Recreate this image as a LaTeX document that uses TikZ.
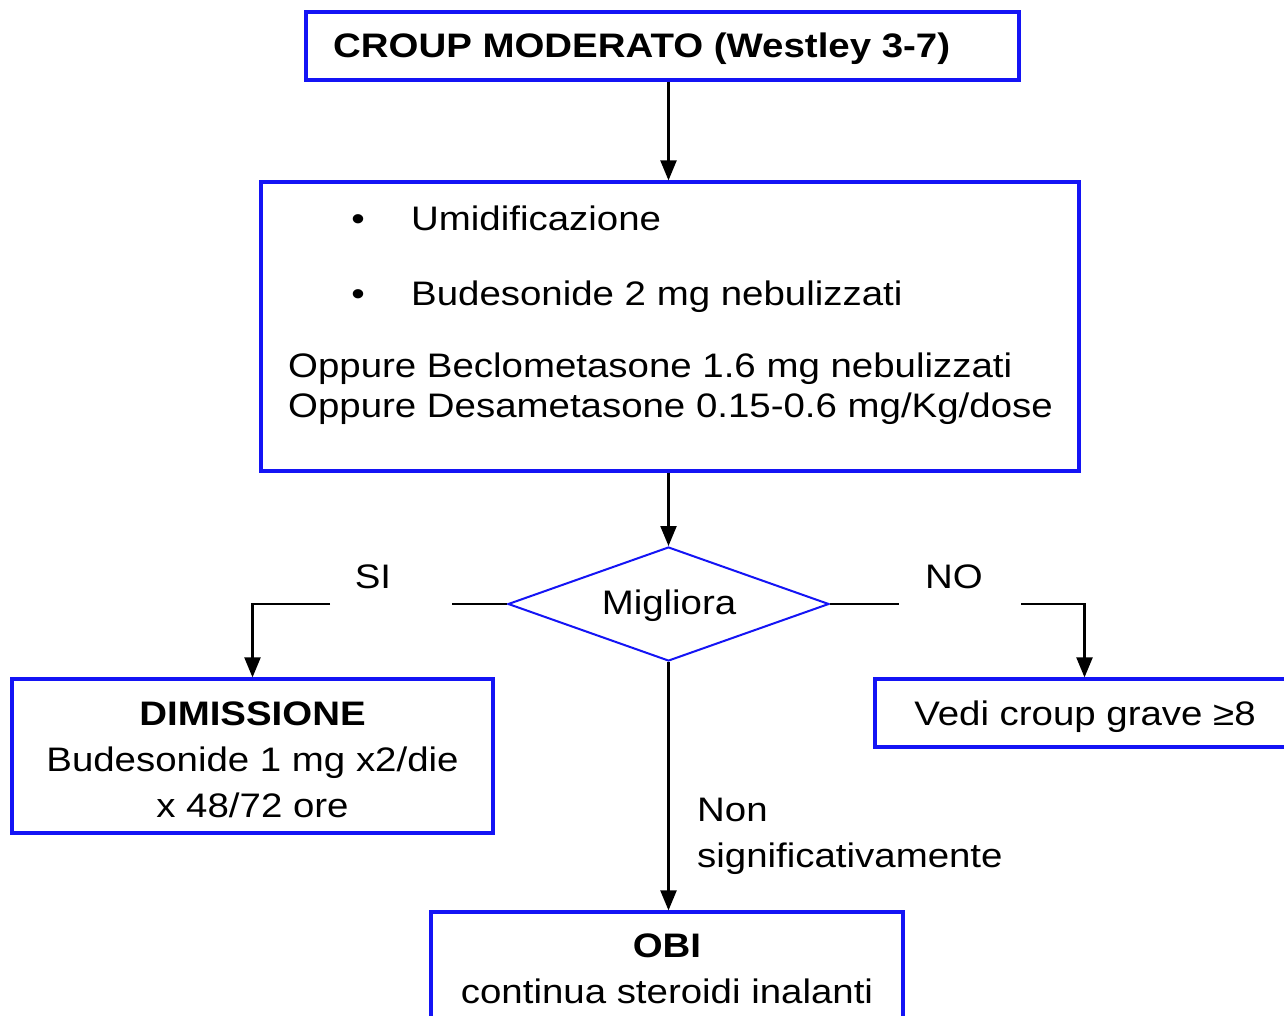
\documentclass[tikz,border=0pt]{standalone}
\usepackage{fontspec}
\setmainfont{Liberation Sans}[FakeStretch=1.13]
\usetikzlibrary{arrows.meta,shapes.geometric}
\definecolor{bbl}{RGB}{20,20,245}
\tikzset{
  boxframe/.style={draw=bbl, line width=3.2pt, rectangle, inner sep=0pt},
  diaframe/.style={draw=bbl, line width=2pt, diamond, inner sep=0pt},
  txt/.style={inner sep=0pt, font=\fontsize{34}{40}\selectfont},
  conn/.style={draw=black, line width=2.2pt},
  arr/.style={conn, -{Triangle[width=16pt,length=20pt]}},
}
\begin{document}
\begin{tikzpicture}[x=1pt,y=-1pt]
\useasboundingbox[fill=white] (0,0) rectangle (1284,1016);
% boxes
\node[boxframe, minimum width=713pt, minimum height=68pt] (top) at (662.5,46) {};
\node[boxframe, minimum width=818pt, minimum height=289pt] (mid) at (670,326.5) {};
\node[diaframe, minimum width=321pt, minimum height=114pt] (dia) at (668.5,604) {};
\node[boxframe, minimum width=481pt, minimum height=154pt] (dim) at (252.5,756) {};
\node[boxframe, minimum width=419pt, minimum height=68pt] (vedi) at (1084.5,713) {};
\node[boxframe, minimum width=472pt, minimum height=140pt] (obi) at (667,982) {};
% texts
\node[txt, anchor=base west] (t1) at (333,58) {\bfseries CROUP MODERATO (Westley 3-7)};
\node[txt, anchor=base] (b1) at (358,231) {•};
\node[txt, anchor=base west] (m1) at (411,231) {Umidificazione};
\node[txt, anchor=base] (b2) at (358,305) {•};
\node[txt, anchor=base west] (m2) at (411,305) {Budesonide 2 mg nebulizzati};
\node[txt, anchor=base west] (m3) at (288,377) {Oppure Beclometasone 1.6 mg nebulizzati};
\node[txt, anchor=base west] (m4) at (288,417) {Oppure Desametasone 0.15-0.6 mg/Kg/dose};
\node[txt, anchor=base] (dq) at (669,614) {Migliora};
\node[txt, anchor=base] (si) at (373,588) {SI};
\node[txt, anchor=base] (no) at (954,588) {NO};
\node[txt, anchor=base] (d1) at (252.5,725) {\bfseries DIMISSIONE};
\node[txt, anchor=base] (d2) at (252.5,771) {Budesonide 1 mg x2/die};
\node[txt, anchor=base] (d3) at (252.5,817) {x 48/72 ore};
\node[txt, anchor=base] (v1) at (1085,725) {Vedi croup grave ≥8};
\node[txt, anchor=base west] (n1) at (697,821) {Non};
\node[txt, anchor=base west] (n2) at (697,867) {significativamente};
\node[txt, anchor=base] (o1) at (667,957) {\bfseries OBI};
\node[txt, anchor=base] (o2) at (667,1003) {continua steroidi inalanti};
% connectors
\coordinate (siA) at (452,604);
\coordinate (siB) at (330,604);
\coordinate (noA) at (899,604);
\coordinate (noB) at (1021,604);
\draw[arr] (top.south -| dia.north) -- (mid.north -| dia.north);
\draw[arr] (mid.south -| dia.north) -- (dia.north);
\draw[conn] (dia.west) -- (siA);
\draw[arr] (siB) -| (dim.north);
\draw[conn] (dia.east) -- (noA);
\draw[arr] (noB) -| (vedi.north);
\draw[arr] (dia.south) -- (dia.south |- obi.north);
\end{tikzpicture}
\end{document}
